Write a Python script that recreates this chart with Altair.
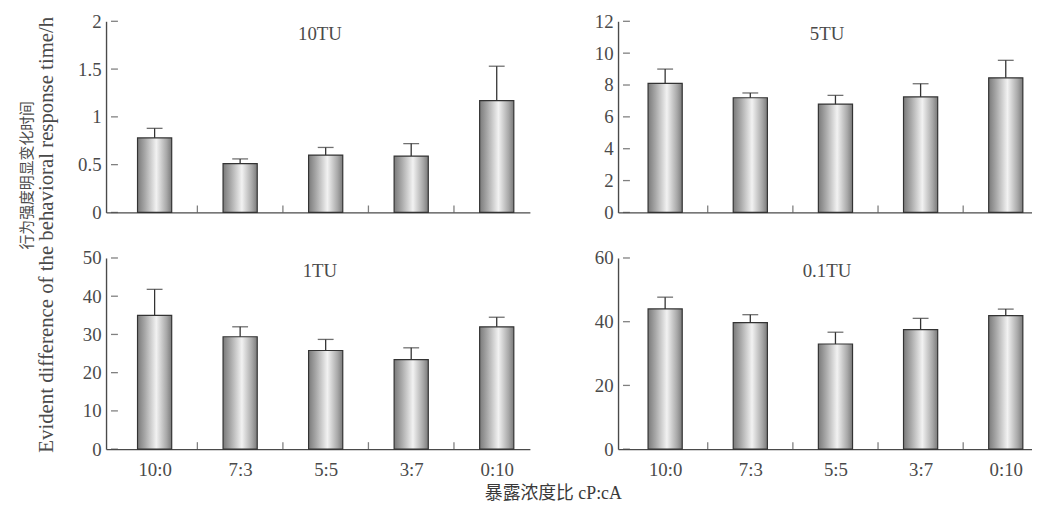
import json
import altair as alt
import pandas as pd

ratios = ["10:0", "7:3", "5:5", "3:7", "0:10"]
positions = [1, 2, 3, 4, 5]
boundaries = [1.5, 2.5, 3.5, 4.5]

tu10_mean = [0.78, 0.51, 0.60, 0.59, 1.17]
tu10_err = [0.10, 0.05, 0.08, 0.13, 0.36]
tu5_mean = [8.1, 7.2, 6.8, 7.25, 8.45]
tu5_err = [0.9, 0.3, 0.55, 0.83, 1.1]
tu1_mean = [35.0, 29.4, 25.8, 23.4, 32.0]
tu1_err = [6.8, 2.6, 2.9, 3.1, 2.5]
tu01_mean = [44.0, 39.7, 33.0, 37.5, 41.9]
tu01_err = [3.7, 2.5, 3.7, 3.55, 2.05]

tu10_ticks = [0, 0.5, 1, 1.5, 2]
tu5_ticks = [0, 2, 4, 6, 8, 10, 12]
tu1_ticks = [0, 10, 20, 30, 40, 50]
tu01_ticks = [0, 20, 40, 60]

SERIF = "Liberation Serif"
CJK = "Noto Sans CJK SC"
MIXED = "Liberation Serif, Noto Sans CJK SC"
TXT = "#4a4a4a"
LINE = "#4a4a4a"

label_expr = json.dumps(ratios) + "[datum.value - 1]"

bar_fill = alt.LinearGradient(
    gradient="linear",
    stops=[
        alt.GradientStop(color="#7a7a7a", offset=0),
        alt.GradientStop(color="#a8a8a8", offset=0.22),
        alt.GradientStop(color="#f2f2f2", offset=0.55),
        alt.GradientStop(color="#a8a8a8", offset=0.85),
        alt.GradientStop(color="#7a7a7a", offset=1),
    ],
    x1=0, x2=1, y1=0, y2=0,
)


def panel(name, means, errs, yticks, xdom, width, height, show_labels,
          ytitle=None, ytx=None, yty=None, ytfont=SERIF, ytsize=20,
          xtitle=None, xtx=None, xty=None):
    df = pd.DataFrame({"pos": positions, "ratio": ratios, "mean": means, "err": errs})
    xscale = alt.Scale(domain=xdom, nice=False, zero=False)
    yscale = alt.Scale(domain=[yticks[0], yticks[-1]], nice=False)

    xaxis_kw = dict(values=positions, labels=show_labels, labelExpr=label_expr,
                    labelPadding=12, domain=True, orient="bottom")
    if xtitle is not None:
        xaxis_kw.update(title=xtitle, titleX=xtx, titleY=xty, titleAlign="left",
                        titleBaseline="middle", titleFont=MIXED, titleFontSize=18,
                        titleFontWeight="normal", titleColor="#3a3a3a")
    else:
        xaxis_kw.update(title=None)
    yaxis_kw = dict(values=yticks, format=".2~f", labelPadding=5, domain=True,
                    orient="left")
    if ytitle is not None:
        yaxis_kw.update(title=ytitle, titleX=ytx, titleY=yty, titleAngle=270,
                        titleAlign="center", titleBaseline="middle",
                        titleFont=ytfont, titleFontSize=ytsize,
                        titleFontWeight="normal", titleColor=TXT)
    else:
        yaxis_kw.update(title=None)

    X = lambda f: alt.X(f, scale=xscale, axis=alt.Axis(**xaxis_kw))
    Y = lambda f: alt.Y(f, scale=yscale, axis=alt.Axis(**yaxis_kw))

    base = alt.Chart(df).transform_calculate(upper="datum.mean + datum.err")
    bars = base.mark_bar(size=34.5, fill=bar_fill, stroke="#333333",
                         strokeWidth=1.2).encode(x=X("pos:Q"), y=Y("mean:Q"))
    err = base.mark_rule(color="#333333", strokeWidth=1.3).encode(
        x=X("pos:Q"), y=Y("mean:Q"), y2="upper:Q")
    cap = base.mark_tick(orient="horizontal", size=16, thickness=1.3,
                         color="#333333").encode(x=X("pos:Q"), y=Y("upper:Q"))
    xt = alt.Chart(pd.DataFrame({"b": boundaries, "z": [0] * len(boundaries)})).mark_tick(
        orient="vertical", size=7, thickness=1.3, yOffset=-3.5, color=LINE).encode(
        x=X("b:Q"), y=Y("z:Q"))
    yt = alt.Chart(pd.DataFrame({"t": yticks, "x0": [xdom[0]] * len(yticks)})).mark_tick(
        orient="horizontal", size=7, thickness=1.3, xOffset=3.5, color=LINE).encode(
        x=X("x0:Q"), y=Y("t:Q"))
    ttl = alt.Chart(pd.DataFrame({"name": [name]})).mark_text(
        font=SERIF, fontSize=19, color=TXT, align="center", baseline="middle").encode(
        text="name:N", x=alt.value(width / 2 + 2), y=alt.value(13))
    return alt.layer(bars, err, cap, xt, yt, ttl).properties(width=width, height=height)


LW, RW, H = 428, 418, 193
LDOM = [0.49, 5.33]
RDOM = [0.505, 5.25]

tl = panel("10TU", tu10_mean, tu10_err, tu10_ticks, LDOM, LW, H, False,
           ytitle="Evident difference of the behavioral response time/h",
           ytx=-60, yty=215, ytfont=SERIF, ytsize=21)
tr = panel("5TU", tu5_mean, tu5_err, tu5_ticks, RDOM, RW, H, False)
bl = panel("1TU", tu1_mean, tu1_err, tu1_ticks, LDOM, LW, H, True,
           ytitle="行为强度明显变化时间", ytx=-80, yty=-84, ytfont=CJK, ytsize=15,
           xtitle="暴露浓度比 cP:cA", xtx=382, xty=45)
br = panel("0.1TU", tu01_mean, tu01_err, tu01_ticks, RDOM, RW, H, True)

chart = alt.concat(
    tl, tr, bl, br, columns=2, spacing={"row": 46, "column": 89}, bounds="flush"
).properties(
    padding={"left": 11, "top": 2, "right": 0, "bottom": 0},
    background="white",
).configure_view(stroke=None).configure_axis(
    domainColor=LINE, domainWidth=1.4, ticks=False, grid=False,
    labelFont=SERIF, labelFontSize=19, labelColor=TXT,
)

chart.save("out.html", embed_options={"renderer": "svg", "actions": False})
